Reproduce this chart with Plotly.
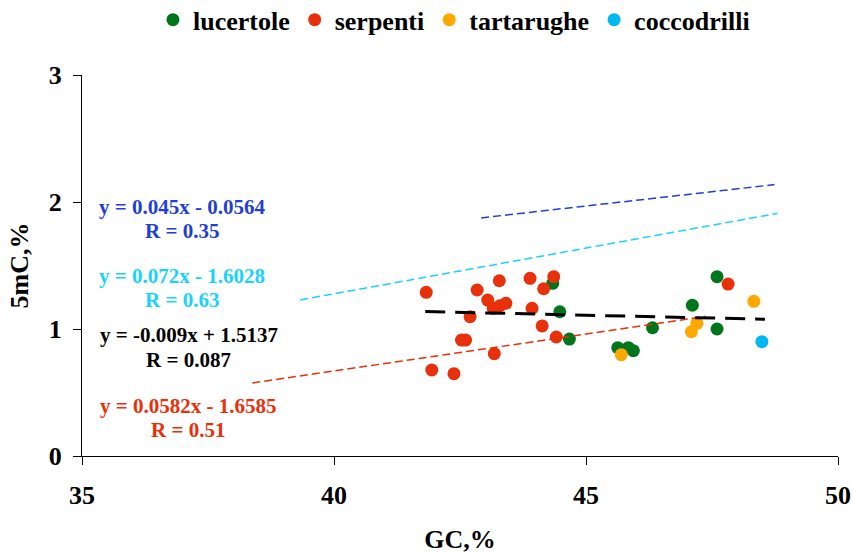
import plotly.graph_objects as go

# GC content (%) and 5mC content (%) by reptile group
lucertole_gc = [44.34, 44.48, 44.67, 45.63, 45.84, 45.94, 46.32, 47.11, 47.60, 47.60]
lucertole_mc = [1.360, 1.136, 0.921, 0.853, 0.853, 0.829, 1.010, 1.187, 1.000, 1.412]

serpenti_gc = [41.83, 41.94, 42.38, 42.53, 42.61, 42.70, 42.84, 43.05, 43.16, 43.18,
               43.28, 43.29, 43.41, 43.89, 43.93, 44.13, 44.16, 44.36, 44.41, 47.82]
serpenti_mc = [1.289, 0.677, 0.648, 0.913, 0.913, 1.097, 1.307, 1.228, 1.163, 0.806,
               1.380, 1.183, 1.202, 1.399, 1.163, 1.024, 1.317, 1.412, 0.937, 1.354]

tartarughe_gc = [45.70, 47.09, 47.20, 48.33]
tartarughe_mc = [0.798, 0.979, 1.045, 1.218]

coccodrilli_gc = [48.49]
coccodrilli_mc = [0.900]

# Linear trend lines: (slope, intercept, x start, x end, R)
fit_blue = (0.045, -0.0564, 42.92, 48.74, 0.35)
fit_cyan = (0.072, -1.6028, 39.33, 48.80, 0.63)
fit_black = (-0.009, 1.5137, 41.81, 48.55, 0.087)
fit_red = (0.0582, -1.6585, 38.38, 47.38, 0.51)

x_ticks = [35, 40, 45, 50]
y_ticks = [0, 1, 2, 3]

FONT = "Liberation Serif"
GREEN = "#00761c"
RED = "#e8300a"
ORANGE = "#ffa800"
CYAN_M = "#00b8f0"
CYAN_L = "#19d2ff"
BLUE = "#1f3fd6"

fig = go.Figure()

groups = [
    ("lucertole", lucertole_gc, lucertole_mc, GREEN),
    ("serpenti", serpenti_gc, serpenti_mc, RED),
    ("tartarughe", tartarughe_gc, tartarughe_mc, ORANGE),
    ("coccodrilli", coccodrilli_gc, coccodrilli_mc, CYAN_M),
]
for name, xs, ys, col in groups:
    fig.add_trace(go.Scatter(
        x=xs, y=ys, mode="markers", name=name,
        marker=dict(color=col, size=13, line=dict(width=0)),
    ))


def trend(fit, color, width, dash):
    a, b, x0, x1, _ = fit
    xs = [x0, x1]
    ys = [a * x + b for x in xs]
    fig.add_trace(go.Scatter(
        x=xs, y=ys, mode="lines", showlegend=False, hoverinfo="skip",
        line=dict(color=color, width=width, dash=dash),
    ))


trend(fit_blue, BLUE, 1.5, "8px,4px")
trend(fit_cyan, CYAN_L, 1.5, "8px,4px")
trend(fit_red, RED, 1.5, "8px,4px")
trend(fit_black, "black", 3, "20px,10px")


# Equation labels: (fit, colour, x centre, y of equation line, y of R line)
labels = [
    (fit_blue, BLUE, 36.98, 1.961, 1.772),
    (fit_cyan, CYAN_L, 36.98, 1.417, 1.228),
    (fit_black, "black", 37.12, 0.953, 0.756),
    (fit_red, RED, 37.10, 0.394, 0.205),
]
for fit, col, xc, y_eq, y_r in labels:
    a, b, _, _, r = fit
    sign = "-" if b < 0 else "+"
    for txt, yy in ((f"y = {a:g}x {sign} {abs(b):g}", y_eq), (f"R = {r:g}", y_r)):
        fig.add_annotation(
            x=xc, y=yy, xref="x", yref="y", text=txt, showarrow=False,
            xanchor="center", yanchor="middle",
            font=dict(family=FONT, size=21, color=col, weight="bold"),
        )

fig.update_layout(
    width=853, height=554,
    margin=dict(l=82, r=15, t=75, b=98, autoexpand=False),
    paper_bgcolor="white", plot_bgcolor="white",
    font=dict(family=FONT, color="black"),
    legend=dict(
        orientation="h", x=0.492, xanchor="center", y=1.145, yanchor="middle",
        font=dict(family=FONT, size=26, color="black", weight="bold"),
        itemwidth=30, tracegroupgap=0,
    ),
    showlegend=True,
)

fig.update_xaxes(
    range=[35, 50], tickvals=x_ticks, showgrid=False, zeroline=False,
    showline=True, linecolor="black", linewidth=1,
    ticks="outside", ticklen=8, tickcolor="black", ticklabelstandoff=8,
    tickfont=dict(family=FONT, size=26, color="black", weight="bold"),
    title=dict(text="GC,%", standoff=20,
               font=dict(family=FONT, size=26, color="black", weight="bold")),
)
fig.update_yaxes(
    range=[0, 3], tickvals=y_ticks, showgrid=False, zeroline=False,
    showline=True, linecolor="black", linewidth=1,
    ticks="outside", ticklen=8, tickcolor="black", ticklabelstandoff=6,
    tickfont=dict(family=FONT, size=26, color="black", weight="bold"),
    title=dict(text="5mC,%", standoff=12,
               font=dict(family=FONT, size=26, color="black", weight="bold")),
)

fig.write_html("out.html")
